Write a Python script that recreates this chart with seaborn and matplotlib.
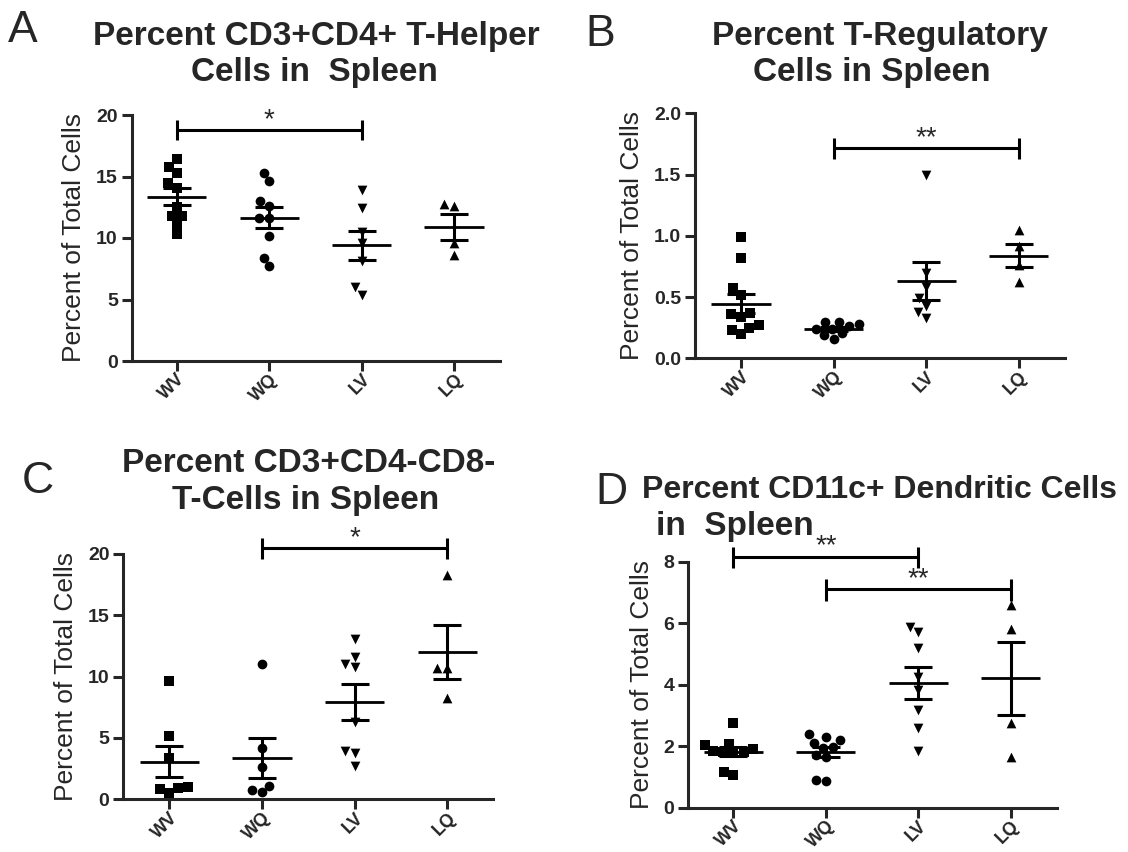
import numpy as np
import pandas as pd
import matplotlib
matplotlib.use("Agg")
import matplotlib.pyplot as plt
import seaborn as sns

# ---------------- data ----------------
groups = ["WV", "WQ", "LV", "LQ"]
group_markers = ["s", "o", "v", "^"]

# Panel A: CD3+CD4+ T-helper
a_wv = [16.4, 15.8, 15.3, 14.5, 14.1, 12.5, 11.8, 11.8, 11.1, 10.3]
a_wq = [15.3, 14.6, 13.0, 12.6, 11.6, 11.6, 10.2, 8.4, 7.7]
a_lv = [13.9, 12.4, 10.5, 9.6, 8.1, 6.0, 5.4]
a_lq = [12.8, 12.6, 9.6, 8.6]

# Panel B: T-regulatory
b_wv = [0.99, 0.82, 0.57, 0.52, 0.37, 0.36, 0.34, 0.27, 0.245, 0.23, 0.20]
b_wq = [0.30, 0.30, 0.28, 0.26, 0.24, 0.24, 0.21, 0.19, 0.16]
b_lv = [1.50, 0.70, 0.585, 0.49, 0.43, 0.38, 0.33]
b_lq = [1.05, 0.92, 0.76, 0.62]

# Panel C: CD3+CD4-CD8- T-cells
c_wv = [9.65, 5.16, 3.34, 1.03, 0.9, 0.82, 0.54]
c_wq = [11.0, 4.2, 2.66, 1.11, 0.76, 0.57]
c_lv = [13.1, 11.6, 11.0, 10.8, 6.3, 3.9, 3.8, 2.7]
c_lq = [18.3, 10.7, 10.7, 8.3]

# Panel D: CD11c+ dendritic cells
d_wv = [2.76, 2.08, 2.04, 1.9, 1.85, 1.8, 1.8, 1.8, 1.17, 1.05]
d_wq = [2.4, 2.3, 2.2, 2.12, 1.98, 1.95, 1.7, 1.65, 0.9, 0.88]
d_lv = [5.89, 5.72, 5.18, 4.26, 3.83, 3.18, 2.58, 1.84]
d_lq = [6.59, 5.8, 2.76, 1.66]

panel_letters = ["A", "B", "C", "D"]
titles = [
    ("Percent CD3+CD4+ T-Helper", "Cells in  Spleen"),
    ("Percent T-Regulatory", "Cells in Spleen"),
    ("Percent CD3+CD4-CD8-", "T-Cells in Spleen"),
    ("Percent CD11c+ Dendritic Cells", "in  Spleen"),
]
ylabel = "Percent of Total Cells"
yticks = [[0, 5, 10, 15, 20], [0.0, 0.5, 1.0, 1.5, 2.0], [0, 5, 10, 15, 20], [0, 2, 4, 6, 8]]
ytick_labels = [["0", "5", "10", "15", "20"], ["0.0", "0.5", "1.0", "1.5", "2.0"],
                ["0", "5", "10", "15", "20"], ["0", "2", "4", "6", "8"]]
# significance comparisons: (group1, group2, label)
sig = [
    [("WV", "LV", "*")],
    [("WQ", "LQ", "**")],
    [("WQ", "LQ", "*")],
    [("WV", "LV", "**"), ("WQ", "LQ", "**")],
]
panel_data = [
    [a_wv, a_wq, a_lv, a_lq],
    [b_wv, b_wq, b_lv, b_lq],
    [c_wv, c_wq, c_lv, c_lq],
    [d_wv, d_wq, d_lv, d_lq],
]

# ---------------- layout (pixels) ----------------
W, H = 1128, 852
sns.set_style("ticks")
plt.rcParams["font.family"] = ["Liberation Sans", "DejaVu Sans"]

fig = plt.figure(figsize=(W / 100, H / 100), dpi=100)

def px_axes(x0, x1, ytop, ybot):
    return fig.add_axes([x0 / W, 1 - ybot / H, (x1 - x0) / W, (ybot - ytop) / H])

axes_px = [(131.7, 500, 115, 361), (695, 1065, 113.3, 358.3),
           (123.3, 493.3, 554, 799.3), (688.3, 1056.7, 561.7, 807.7)]
xlims = [(-0.487, 3.498), (-0.497, 3.5), (-0.496, 3.496), (-0.487, 3.497)]
# bracket: (y, tick_lo, tick_hi, star_y)
brackets = [
    [(18.8, 18.0, 19.6, 19.6)],
    [(1.72, 1.63, 1.80, 1.80)],
    [(20.46, 19.6, 21.3, 21.3)],
    [(8.16, 7.78, 8.49, 8.49), (7.10, 6.73, 7.43, 7.43)],
]
title_px = [
    ((316, 36), (314, 73)),
    ((880, 36), (872, 73)),
    ((309, 463), (306, 501)),
    ((880, 490), (735, 527)),
]
title_size = [(24, 24), (24, 24), (24, 24), (23, 24)]
letter_px = [(8, 30), (585, 35), (22, 482), (595, 493)]

LW = 2.2
for i in range(4):
    ax = px_axes(*axes_px[i])
    df = pd.DataFrame({
        "group": np.repeat(groups, [len(v) for v in panel_data[i]]),
        "value": np.concatenate([np.asarray(v, float) for v in panel_data[i]]),
    })
    for g, m in zip(groups, group_markers):
        sns.swarmplot(data=df[df["group"] == g], x="group", y="value", order=groups,
                      marker=m, color="black", size=7, linewidth=0, ax=ax)
    stats = df.groupby("group")["value"].agg(["mean", "sem"]).reindex(groups)
    xs = np.arange(len(groups))
    ax.hlines(stats["mean"], xs - 0.32, xs + 0.32, color="black", lw=2.0, zorder=4)
    ax.errorbar(xs, stats["mean"], yerr=stats["sem"], fmt="none", ecolor="black",
                elinewidth=LW, capsize=10, capthick=LW, zorder=4)

    ax.set_xlim(*xlims[i])
    ax.set_ylim(yticks[i][0], yticks[i][-1])
    ax.set_yticks(yticks[i])
    ax.set_yticklabels(ytick_labels[i], fontsize=14, fontweight="bold")
    ax.set_xticks(xs)
    ax.set_xticklabels(groups, fontsize=13, fontweight="bold", rotation=45,
                       ha="right", rotation_mode="anchor")
    ax.set_xlabel("")
    ax.set_ylabel(ylabel, fontsize=19, labelpad=7)
    sns.despine(ax=ax)
    for s in ["left", "bottom"]:
        ax.spines[s].set_linewidth(LW)
    ax.tick_params(width=LW, length=7, pad=3)
    ax.tick_params(axis="x", pad=0)

    for (g1, g2, lab), (yb, lo, hi, ys) in zip(sig[i], brackets[i]):
        x1, x2 = groups.index(g1), groups.index(g2)
        for xv in (x1, x2):
            ax.plot([xv, xv], [lo, hi], color="black", lw=LW, clip_on=False,
                    solid_capstyle="butt")
        ax.plot([x1, x2], [yb, yb], color="black", lw=LW, clip_on=False)
        ax.annotate(lab, xy=((x1 + x2) / 2, ys), ha="center", va="center",
                    fontsize=20, annotation_clip=False)

    (t1x, t1y), (t2x, t2y) = title_px[i]
    fig.text(t1x / W, 1 - t1y / H, titles[i][0], ha="center", va="center",
             fontsize=title_size[i][0], fontweight="bold")
    fig.text(t2x / W, 1 - t2y / H, titles[i][1], ha="center", va="center",
             fontsize=title_size[i][1], fontweight="bold")
    lx, ly = letter_px[i]
    fig.text(lx / W, 1 - ly / H, panel_letters[i], ha="left", va="center", fontsize=32)

fig.savefig("out.png", dpi=100)
